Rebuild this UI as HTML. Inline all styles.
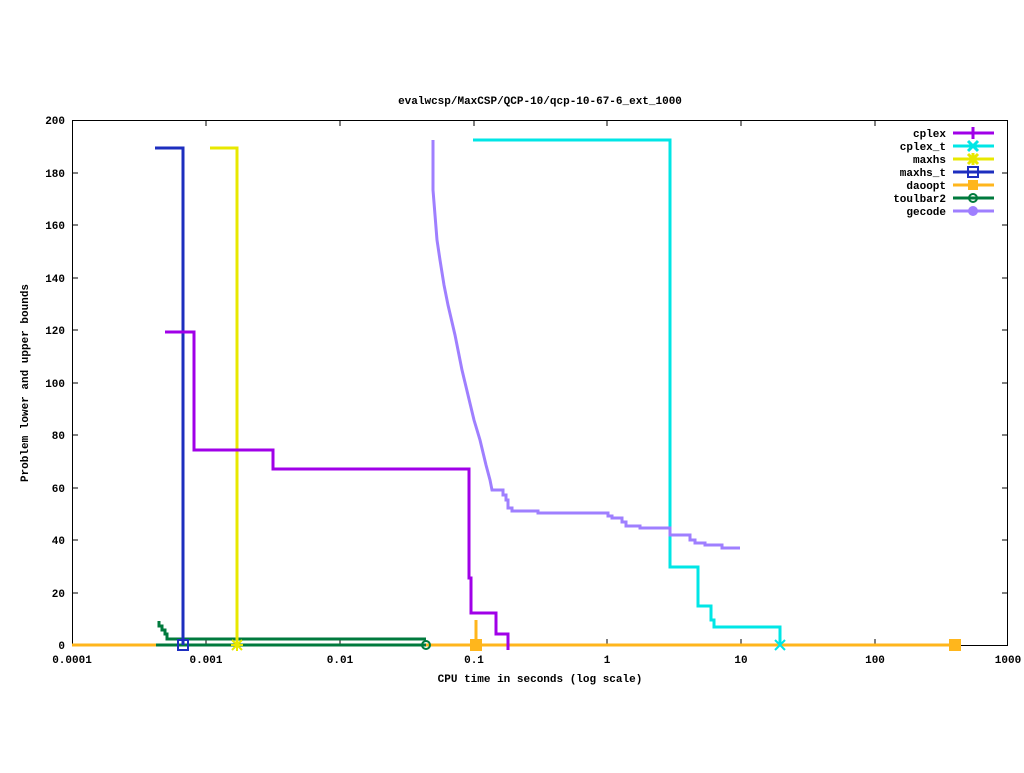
<!DOCTYPE html>
<html><head><style>body{margin:0;background:#fff}svg text{font-family:"Liberation Mono",monospace;font-size:11px;font-weight:bold;fill:#000}</style></head><body>
<svg width="1024" height="768" viewBox="0 0 1024 768" xmlns="http://www.w3.org/2000/svg">
<text x="540" y="104" text-anchor="middle">evalwcsp/MaxCSP/QCP-10/qcp-10-67-6_ext_1000</text>
<rect x="72.5" y="120.5" width="935" height="525" fill="none" stroke="#000"/>
<g stroke="#000">
<path d="M72 593h6M1008 593h-6M72 540h6M1008 540h-6M72 488h6M1008 488h-6M72 435h6M1008 435h-6M72 383h6M1008 383h-6M72 330h6M1008 330h-6M72 278h6M1008 278h-6M72 225h6M1008 225h-6M72 173h6M1008 173h-6"/>
<path d="M206 645v-6M206 120v6M340 645v-6M340 120v6M474 645v-6M474 120v6M607 645v-6M607 120v6M741 645v-6M741 120v6M875 645v-6M875 120v6"/>
</g>
<g text-anchor="end">
<text x="65" y="649">0</text><text x="65" y="597">20</text><text x="65" y="544">40</text><text x="65" y="492">60</text><text x="65" y="439">80</text><text x="65" y="387">100</text><text x="65" y="334">120</text><text x="65" y="282">140</text><text x="65" y="229">160</text><text x="65" y="177">180</text><text x="65" y="124">200</text>
</g>
<g text-anchor="middle">
<text x="72" y="663">0.0001</text><text x="206" y="663">0.001</text><text x="340" y="663">0.01</text><text x="474" y="663">0.1</text><text x="607" y="663">1</text><text x="741" y="663">10</text><text x="875" y="663">100</text><text x="1008" y="663">1000</text>
<text x="540" y="682">CPU time in seconds (log scale)</text>
</g>
<text transform="translate(28,383) rotate(-90)" text-anchor="middle">Problem lower and upper bounds</text>
<g fill="none" stroke-width="3">
<path stroke="#ffb61c" d="M72 645H955M476 645V620"/>
<path stroke="#007a3d" d="M156 645H426M159 621V626H162V630H165V634H167V639H426"/>
<path stroke="#1d2ebf" d="M155 148H183V645"/>
<path stroke="#e8e800" d="M210 148H237V645"/>
<path stroke="#a000e8" d="M165 332H194V450H273V469H469V578H471V613H496V634H508V650"/>
<path stroke="#00e6e6" d="M473 140H670V567H698V606H711V620H714V627H780V645"/>
<path stroke="#9f7fff" d="M433 140V190L435 215L437 240L440 260L444 285L448 305L455 335L462 370L468 395L474 420L480 440L486 465L490 480L492 490H503V495H506V500H508V508H512V511H538V513H608V516H612V518H622V522H626V526H640V528H670V535H690V540H695V543H705V545H722V548H740"/>
</g>
<g stroke-width="2" fill="none">
<rect x="178" y="640" width="10" height="10" stroke="#1d2ebf"/>
<circle cx="426" cy="645" r="4" stroke="#007a3d"/>
<rect x="471" y="640" width="10" height="10" fill="#ffb61c" stroke="#ffb61c"/>
<rect x="950" y="640" width="10" height="10" fill="#ffb61c" stroke="#ffb61c"/>
<path stroke="#e8e800" d="M232 640l10 10M242 640l-10 10M237 639v12M231 645h12"/>
<path stroke="#00e6e6" d="M775 640l10 10M785 640l-10 10"/>
</g>
<g text-anchor="end">
<text x="946" y="137">cplex</text><text x="946" y="150">cplex_t</text><text x="946" y="163">maxhs</text><text x="946" y="176">maxhs_t</text><text x="946" y="189">daoopt</text><text x="946" y="202">toulbar2</text><text x="946" y="215">gecode</text>
</g>
<g stroke-width="3" fill="none">
<path stroke="#a000e8" d="M953 133H994M973 127V139"/>
<path stroke="#00e6e6" d="M953 146H994M968 141l10 10M978 141l-10 10"/>
<path stroke="#e8e800" d="M953 159H994M968 154l10 10M978 154l-10 10M973 153v12"/>
<path stroke="#1d2ebf" d="M953 172H994"/><rect x="968" y="167" width="10" height="10" stroke="#1d2ebf" stroke-width="2" fill="none"/>
<path stroke="#ffb61c" d="M953 185H994"/><rect x="968" y="180" width="10" height="10" fill="#ffb61c"/>
<path stroke="#007a3d" d="M953 198H994"/><circle cx="973" cy="198" r="4" stroke="#007a3d" stroke-width="2"/>
<path stroke="#9f7fff" d="M953 211H994"/><circle cx="973" cy="211" r="5" fill="#9f7fff" stroke="none"/>
</g>
</svg>
</body></html>
